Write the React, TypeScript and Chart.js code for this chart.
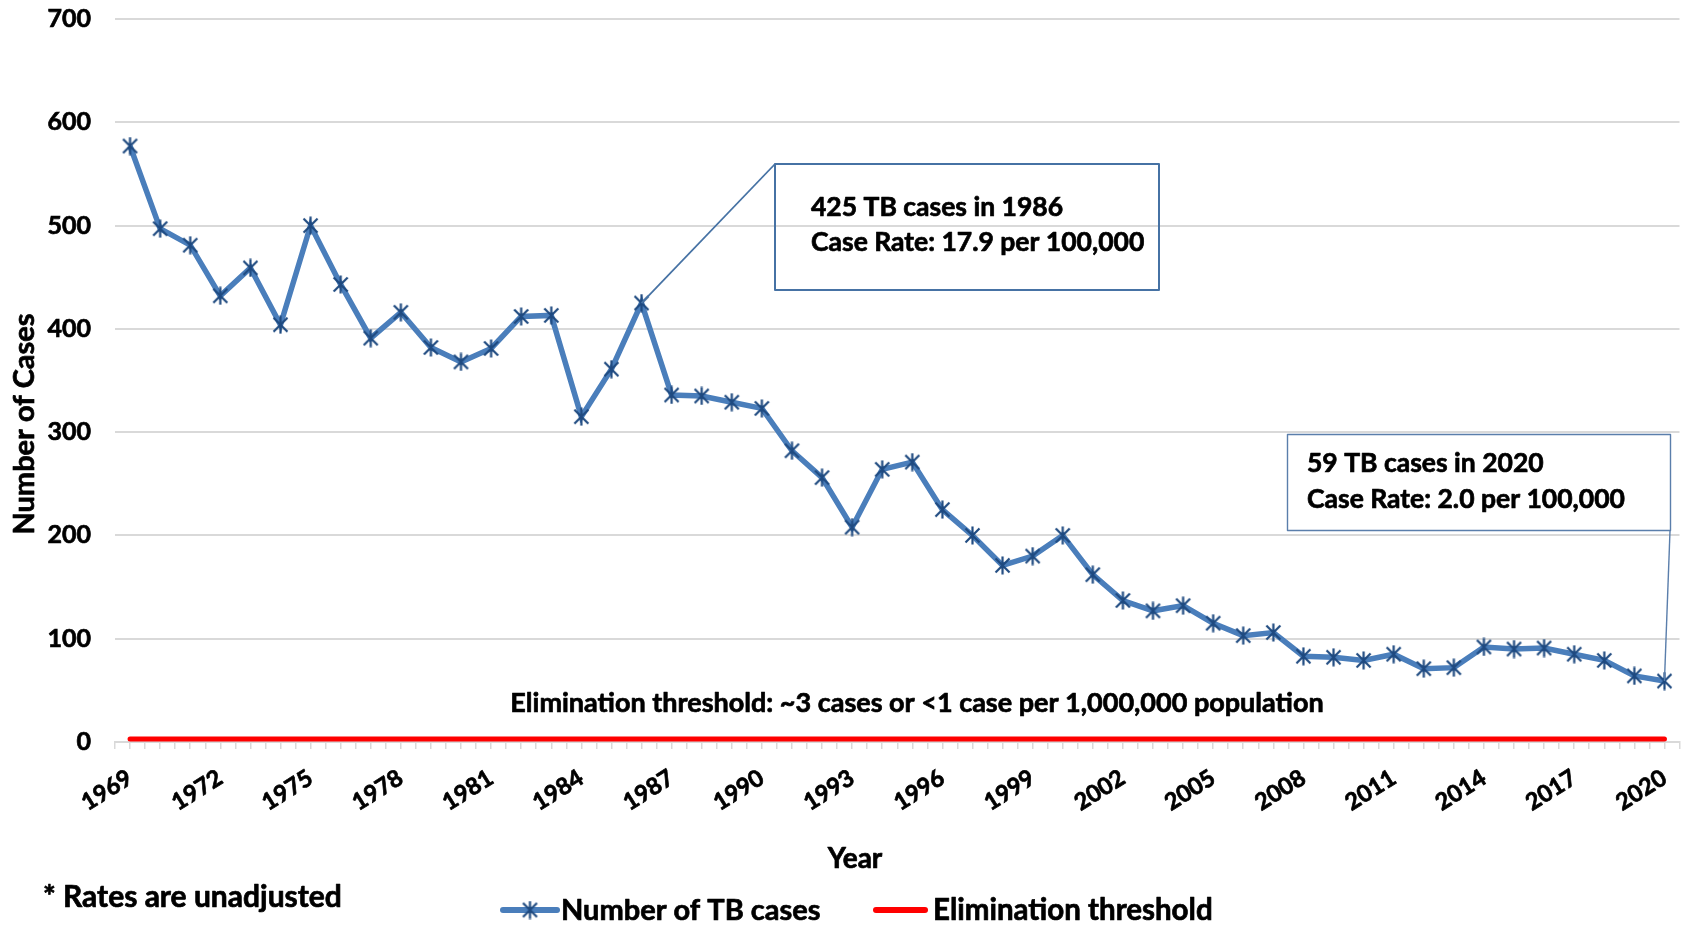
import React, { useEffect, useRef } from "react";
import { Chart, registerables } from "chart.js";

Chart.register(...registerables);

const years = [
  "1969", "1970", "1971", "1972", "1973", "1974", "1975", "1976", "1977", "1978",
  "1979", "1980", "1981", "1982", "1983", "1984", "1985", "1986", "1987", "1988",
  "1989", "1990", "1991", "1992", "1993", "1994", "1995", "1996", "1997", "1998",
  "1999", "2000", "2001", "2002", "2003", "2004", "2005", "2006", "2007", "2008",
  "2009", "2010", "2011", "2012", "2013", "2014", "2015", "2016", "2017", "2018",
  "2019", "2020",
];

const tbCases = [
  577, 497, 481, 432, 459, 404, 500, 443, 391, 416,
  382, 368, 381, 412, 413, 315, 361, 425, 336, 335,
  329, 323, 282, 256, 208, 264, 271, 225, 200, 171,
  180, 200, 162, 137, 127, 132, 115, 103, 106, 83,
  82, 79, 85, 71, 72, 92, 90, 91, 85, 79,
  64, 59,
];

const eliminationThreshold = [
  3, 3, 3, 3, 3, 3, 3, 3, 3, 3,
  3, 3, 3, 3, 3, 3, 3, 3, 3, 3,
  3, 3, 3, 3, 3, 3, 3, 3, 3, 3,
  3, 3, 3, 3, 3, 3, 3, 3, 3, 3,
  3, 3, 3, 3, 3, 3, 3, 3, 3, 3,
  3, 3,
];

const xTickLabels = [
  "1969", "1972", "1975", "1978", "1981", "1984", "1987", "1990", "1993",
  "1996", "1999", "2002", "2005", "2008", "2011", "2014", "2017", "2020",
];

const seriesNames = ["Number of TB cases", "Elimination threshold"];
const yAxisTitle = "Number of Cases";
const xAxisTitle = "Year";
const footnote = "* Rates are unadjusted";
const thresholdNote = "Elimination threshold: ~3 cases or <1 case per 1,000,000 population";
const callout1986Year = "1986";
const callout1986Lines = ["425 TB cases in 1986", "Case Rate: 17.9 per 100,000"];
const callout2020Year = "2020";
const callout2020Lines = ["59 TB cases in 2020", "Case Rate: 2.0 per 100,000"];

const FONT = "Lato, 'Open Sans', sans-serif";
const BLUE = "#4a7ebb";
const MARKER = "#1f4a80";
const RED = "#ff0000";
const GRID = "#d9d9d9";
const BOX = "#4672a4";
const TEXT_STROKE = 0.7;

function makeStar(): HTMLCanvasElement {
  const c = document.createElement("canvas");
  c.width = 19;
  c.height = 19;
  const g = c.getContext("2d")!;
  g.strokeStyle = MARKER;
  g.lineWidth = 2.2;
  g.lineCap = "butt";
  g.beginPath();
  g.moveTo(2.5, 2.5);
  g.lineTo(16.5, 16.5);
  g.moveTo(16.5, 2.5);
  g.lineTo(2.5, 16.5);
  g.moveTo(9.5, 0.5);
  g.lineTo(9.5, 18.5);
  g.stroke();
  return c;
}

function boldText(ctx: CanvasRenderingContext2D, text: string, x: number, y: number) {
  ctx.fillText(text, x, y);
  ctx.strokeText(text, x, y);
}

export default function App() {
  const canvasRef = useRef<HTMLCanvasElement | null>(null);

  useEffect(() => {
    let chart: Chart | null = null;
    let cancelled = false;

    const build = () => {
      if (cancelled || !canvasRef.current) return;
      const star = makeStar();

      const overlay = {
        id: "overlay",
        afterDraw(ch: any) {
          const ctx = ch.ctx as CanvasRenderingContext2D;
          const xs = ch.scales.x;
          const ys = ch.scales.y;
          ctx.save();
          ctx.fillStyle = "#000";
          ctx.lineJoin = "round";

          const setText = () => {
            ctx.fillStyle = "#000";
            ctx.strokeStyle = "#000";
            ctx.lineWidth = TEXT_STROKE;
          };

          // Y axis title
          ctx.save();
          setText();
          ctx.font = `bold 29px ${FONT}`;
          ctx.translate(25, 424);
          ctx.rotate(-Math.PI / 2);
          ctx.textAlign = "center";
          ctx.textBaseline = "middle";
          boldText(ctx, yAxisTitle, 0, 0);
          ctx.restore();

          // X axis title
          setText();
          ctx.font = `bold 28px ${FONT}`;
          ctx.textAlign = "center";
          ctx.textBaseline = "alphabetic";
          boldText(ctx, xAxisTitle, 855, 868);

          // Footnote
          ctx.font = `bold 30px ${FONT}`;
          ctx.textAlign = "left";
          boldText(ctx, footnote, 43, 907);

          // Threshold note
          ctx.font = `bold 27px ${FONT}`;
          ctx.textAlign = "center";
          boldText(ctx, thresholdNote, 917, 712);

          // Legend
          const ly = 910;
          ctx.lineCap = "round";
          ctx.lineWidth = 6;
          ctx.strokeStyle = BLUE;
          ctx.beginPath();
          ctx.moveTo(503, ly);
          ctx.lineTo(557, ly);
          ctx.stroke();
          ctx.drawImage(star, 530 - star.width / 2, ly - star.height / 2);
          ctx.strokeStyle = RED;
          ctx.beginPath();
          ctx.moveTo(876, ly);
          ctx.lineTo(925, ly);
          ctx.stroke();
          setText();
          ctx.font = `bold 29px ${FONT}`;
          ctx.textAlign = "left";
          boldText(ctx, ch.data.datasets[0].label, 561, 920);
          ctx.font = `bold 29.5px ${FONT}`;
          boldText(ctx, ch.data.datasets[1].label, 933, 920);

          // Callout 1986
          const i1 = years.indexOf(callout1986Year);
          const p1x = xs.getPixelForValue(i1);
          const p1y = ys.getPixelForValue(tbCases[i1]);
          ctx.lineCap = "butt";
          ctx.strokeStyle = BOX;
          ctx.lineWidth = 1.8;
          ctx.beginPath();
          ctx.moveTo(p1x, p1y);
          ctx.lineTo(775, 164);
          ctx.stroke();
          ctx.lineWidth = 2;
          ctx.strokeRect(775, 164, 384, 126);
          setText();
          ctx.font = `bold 26.5px ${FONT}`;
          boldText(ctx, callout1986Lines[0], 811, 216);
          boldText(ctx, callout1986Lines[1], 811, 251);

          // Callout 2020
          const i2 = years.indexOf(callout2020Year);
          const p2x = xs.getPixelForValue(i2);
          const p2y = ys.getPixelForValue(tbCases[i2]);
          ctx.strokeStyle = "#5a7eab";
          ctx.lineWidth = 1.4;
          ctx.beginPath();
          ctx.moveTo(1670, 531);
          ctx.lineTo(p2x, p2y);
          ctx.stroke();
          ctx.strokeRect(1287.5, 434.5, 383, 96);
          setText();
          boldText(ctx, callout2020Lines[0], 1307, 472);
          boldText(ctx, callout2020Lines[1], 1307, 508);

          ctx.restore();
        },
      };

      chart = new Chart(canvasRef.current, {
        type: "line",
        data: {
          labels: years,
          datasets: [
            {
              label: seriesNames[0],
              data: tbCases,
              borderColor: BLUE,
              backgroundColor: BLUE,
              borderWidth: 5.5,
              pointStyle: star as any,
              pointRadius: 9,
              tension: 0,
              order: 1,
            },
            {
              label: seriesNames[1],
              data: eliminationThreshold,
              borderColor: RED,
              backgroundColor: RED,
              borderWidth: 5,
              borderCapStyle: "round",
              pointRadius: 0,
              tension: 0,
              order: 2,
            },
          ],
        },
        options: {
          responsive: false,
          animation: false,
          devicePixelRatio: 1,
          events: [],
          layout: { padding: { top: 19, right: 10, left: 0, bottom: 0 } },
          plugins: {
            legend: { display: false },
            tooltip: { enabled: false },
            title: { display: false },
          },
          scales: {
            x2: {
              type: "category",
              position: "bottom",
              weight: 0,
              offset: true,
              grid: {
                offset: false,
                drawOnChartArea: false,
                drawTicks: true,
                tickLength: 7,
                color: GRID,
                lineWidth: 1.5,
              },
              border: { display: false },
              ticks: { display: false },
              afterFit: (s: any) => {
                s.height = 0;
                s.paddingLeft = 0;
                s.paddingRight = 0;
              },
            } as any,
            x: {
              type: "category",
              position: "bottom",
              weight: 1,
              offset: true,
              grid: {
                offset: true,
                drawOnChartArea: false,
                drawTicks: true,
                tickLength: 7,
                color: GRID,
                lineWidth: 1.5,
              },
              border: { display: true, color: GRID, width: 2 },
              ticks: {
                autoSkip: false,
                maxRotation: 32,
                minRotation: 32,
                padding: 15,
                color: "#000",
                textStrokeColor: "#000",
                textStrokeWidth: TEXT_STROKE,
                font: { family: FONT, size: 23.5, weight: "bold" },
                callback: function (this: any, value: any) {
                  const lbl = this.getLabelForValue(value);
                  return xTickLabels.includes(lbl) ? lbl : "";
                },
              },
              afterFit: (s: any) => {
                s.height = 185;
                s.paddingLeft = 0;
                s.paddingRight = 0;
              },
            },
            y: {
              type: "linear",
              min: 0,
              max: 700,
              ticks: {
                stepSize: 100,
                padding: 24,
                color: "#000",
                textStrokeColor: "#000",
                textStrokeWidth: TEXT_STROKE,
                font: { family: FONT, size: 25, weight: "bold" },
              },
              grid: { color: GRID, lineWidth: 2, drawTicks: false },
              border: { display: false },
              afterFit: (s: any) => {
                s.width = 115;
                s.paddingTop = 0;
                s.paddingBottom = 0;
              },
            },
          },
        },
        plugins: [overlay],
      });
    };

    const fonts: any = (document as any).fonts;
    if (fonts && fonts.load) {
      Promise.all([fonts.load(`bold 20px Lato`), fonts.load(`20px Lato`)])
        .catch(() => null)
        .then(() => build());
    } else {
      build();
    }

    return () => {
      cancelled = true;
      if (chart) chart.destroy();
    };
  }, []);

  return (
    <div style={{ position: "absolute", left: 0, top: 0, width: 1694, height: 927, background: "#fff" }}>
      <canvas ref={canvasRef} width={1694} height={927} style={{ display: "block", width: 1694, height: 927 }} />
    </div>
  );
}
